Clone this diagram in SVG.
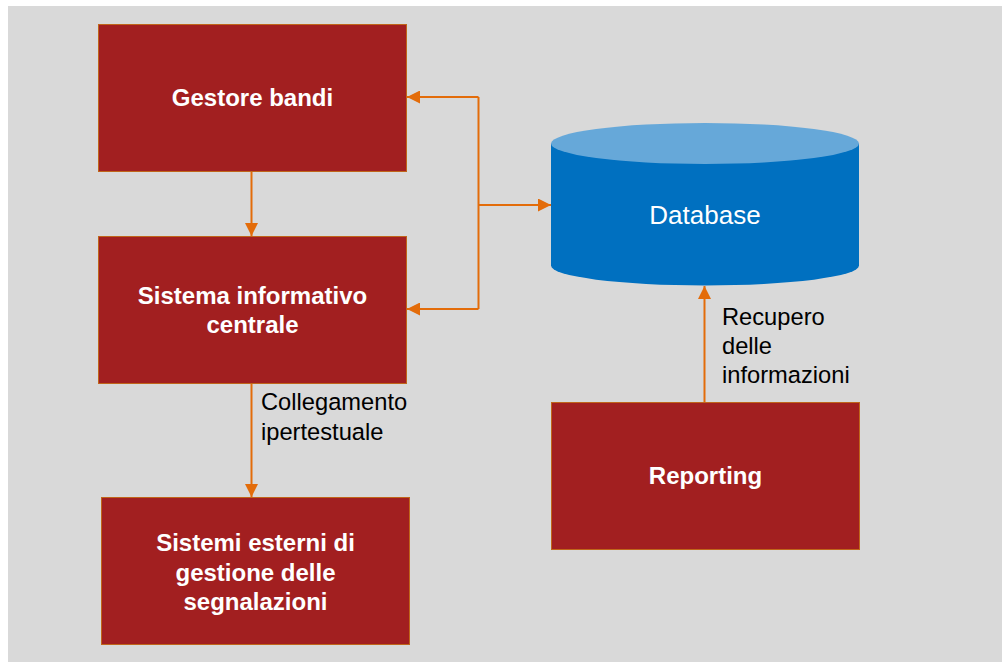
<svg xmlns="http://www.w3.org/2000/svg" width="1002" height="662" viewBox="0 0 1002 662">
<style>
.box{fill:#a21f20;stroke:#c0651a;stroke-width:1}
.bl{font-family:"Liberation Sans",Arial,sans-serif;font-weight:bold;font-size:24px;fill:#ffffff;text-anchor:middle}
.lab{font-family:"Liberation Sans",Arial,sans-serif;font-size:23.7px;fill:#000000}
.con{stroke:#e36c0a;stroke-width:2;fill:none}
</style>
<defs>
<marker id="ah" markerWidth="13" markerHeight="13" refX="13" refY="6.5" orient="auto" markerUnits="userSpaceOnUse">
<path d="M0,0 L13,6.5 L0,13 Z" fill="#e36c0a"/>
</marker>
</defs>
<rect x="0" y="0" width="1002" height="662" fill="#ffffff"/>
<rect x="8" y="6" width="994" height="656" fill="#d9d9d9"/>
<g id="connectors">
<line class="con" x1="251.5" y1="172" x2="251.5" y2="236" marker-end="url(#ah)"/>
<line class="con" x1="251.5" y1="384" x2="251.5" y2="497" marker-end="url(#ah)"/>
<polyline class="con" points="478.5,97 478.5,309"/>
<line class="con" x1="478.5" y1="97" x2="407" y2="97" marker-end="url(#ah)"/>
<line class="con" x1="478.5" y1="309" x2="407" y2="309" marker-end="url(#ah)"/>
<line class="con" x1="478.5" y1="205" x2="551" y2="205" marker-end="url(#ah)"/>
<line class="con" x1="704.5" y1="402" x2="704.5" y2="286" marker-end="url(#ah)"/>
<text class="lab" x="261" y="410">Collegamento</text>
<text class="lab" x="261" y="440">ipertestuale</text>
<text class="lab" x="722" y="325">Recupero</text>
<text class="lab" x="722" y="354">delle</text>
<text class="lab" x="722" y="383">informazioni</text>
</g>
<g id="gestore">
<rect class="box" x="98.5" y="24.5" width="308" height="147"/>
<text class="bl" x="252.5" y="106">Gestore bandi</text>
</g>
<g id="sistema">
<rect class="box" x="98.5" y="236.5" width="308" height="147"/>
<text class="bl" x="252.5" y="304">Sistema informativo</text>
<text class="bl" x="252.5" y="333">centrale</text>
</g>
<g id="esterni">
<rect class="box" x="101.5" y="497.5" width="308" height="147"/>
<text class="bl" x="255.5" y="551">Sistemi esterni di</text>
<text class="bl" x="255.5" y="581">gestione delle</text>
<text class="bl" x="255.5" y="610">segnalazioni</text>
</g>
<g id="database">
<path d="M551,143.5 L551,265.5 A154,20 0 0 0 859,265.5 L859,143.5 Z" fill="#0070c0"/>
<ellipse cx="705" cy="143.5" rx="154" ry="20.5" fill="#66a8d9"/>
<text x="705" y="224" font-family="Liberation Sans,Arial,sans-serif" font-size="26" fill="#ffffff" text-anchor="middle">Database</text>
</g>
<g id="reporting">
<rect class="box" x="551.5" y="402.5" width="308" height="147"/>
<text class="bl" x="705.5" y="484">Reporting</text>
</g>
</svg>
